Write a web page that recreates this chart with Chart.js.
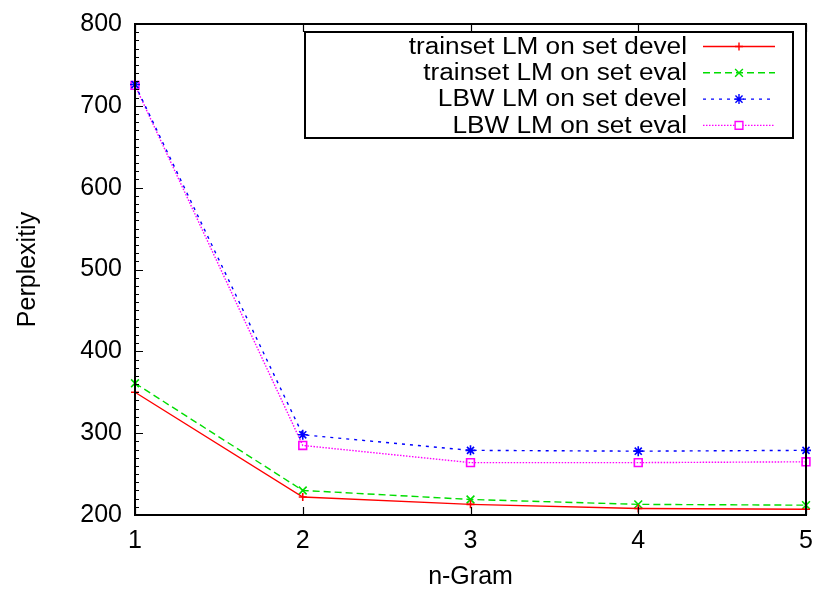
<!DOCTYPE html>
<html>
<head>
<meta charset="utf-8">
<script src="https://cdn.jsdelivr.net/npm/chart.js@4/dist/chart.umd.min.js"></script>
<style>
  html, body { margin: 0; padding: 0; background: #fff; }
  #wrap { width: 815px; height: 592px; }
</style>
</head>
<body>
<div id="wrap"><canvas id="pplChart" width="815" height="592"></canvas></div>
<script>
// perplexity per n-gram order
const nGrams = ['1', '2', '3', '4', '5'];
const trainDevel = [350, 222, 213, 208, 207];
const trainEval = [361, 230, 219, 213, 212];
const lbwDevel = [726, 298, 279, 278, 279];
const lbwEval = [725, 285, 264, 264, 265];
const yTicks = [200, 300, 400, 500, 600, 700, 800];

const FONT = "'Liberation Sans', Arial, sans-serif";

// gnuplot-style frame with inward ticks
const frameTicks = {
    id: 'frameTicks',
    afterDatasetsDraw(chart) {
        const { ctx, chartArea: a, scales: { x, y } } = chart;
        ctx.save();
        ctx.strokeStyle = '#000';
        ctx.lineWidth = 1.2;
        ctx.beginPath();
        // minor ticks every 10 on the left
        for (let v = yTicks[0]; v <= yTicks[yTicks.length - 1]; v += 10) {
            const py = Math.round(y.getPixelForValue(v)) + 0.5;
            const len = v % 100 === 0 ? 8 : 4;
            ctx.moveTo(a.left, py);
            ctx.lineTo(a.left + len, py);
        }
        // x ticks on bottom and top
        nGrams.forEach((n, i) => {
            const px = Math.round(x.getPixelForValue(i)) + 0.5;
            ctx.moveTo(px, a.bottom);
            ctx.lineTo(px, a.bottom - 8);
            ctx.moveTo(px, a.top);
            ctx.lineTo(px, a.top + 8);
        });
        ctx.stroke();
        ctx.lineWidth = 2;
        ctx.strokeRect(a.left, a.top, a.right - a.left, a.bottom - a.top);
        ctx.restore();
    }
};

// boxed legend, text right-aligned with line samples to the right
const boxLegend = {
    id: 'boxLegend',
    afterDraw(chart) {
        const { ctx } = chart;
        const box = { x: 305, y: 32, w: 488, h: 106 };
        const rowH = 26.3;
        ctx.save();
        ctx.fillStyle = '#fff';
        ctx.fillRect(box.x, box.y, box.w, box.h);
        ctx.strokeStyle = '#000';
        ctx.lineWidth = 2;
        ctx.strokeRect(box.x, box.y, box.w, box.h);
        chart.data.datasets.forEach((ds, i) => {
            const cy = box.y + 14.5 + i * rowH;
            ctx.save();
            ctx.translate(687, cy);
            ctx.scale(1.14, 1);
            ctx.fillStyle = '#000';
            ctx.font = '23px ' + FONT;
            ctx.textAlign = 'right';
            ctx.textBaseline = 'middle';
            ctx.fillText(ds.label, 0, 1);
            ctx.restore();

            ctx.strokeStyle = ds.borderColor;
            ctx.lineWidth = ds.borderWidth;
            ctx.setLineDash(ds.borderDash || []);
            ctx.beginPath();
            ctx.moveTo(703, cy);
            ctx.lineTo(775, cy);
            ctx.stroke();
            ctx.setLineDash([]);
            Chart.helpers.drawPoint(ctx, {
                pointStyle: ds.pointStyle,
                radius: ds.pointRadius,
                borderWidth: ds.pointBorderWidth || ds.borderWidth,
                rotation: 0
            }, 739, cy);
        });
        ctx.restore();
    }
};

function series(label, data, color, dash, style, radius) {
    return {
        label: label,
        data: data,
        borderColor: color,
        backgroundColor: 'transparent',
        pointBorderColor: color,
        pointBackgroundColor: 'transparent',
        borderWidth: 1.4,
        pointBorderWidth: 1.6,
        borderDash: dash,
        pointStyle: style,
        pointRadius: radius,
        tension: 0,
        fill: false
    };
}

new Chart(document.getElementById('pplChart'), {
    type: 'line',
    data: {
        labels: nGrams,
        datasets: [
            series('trainset LM on set devel', trainDevel, '#ff0000', [], 'cross', 4),
            series('trainset LM on set eval', trainEval, '#00dd00', [7, 4], 'crossRot', 5.5),
            series('LBW LM on set devel', lbwDevel, '#0000ff', [3, 5], 'star', 5),
            series('LBW LM on set eval', lbwEval, '#ff00ff', [1.5, 1.5], 'rect', 5.5)
        ]
    },
    options: {
        responsive: false,
        animation: false,
        layout: { padding: { top: 24, right: 9, left: 0, bottom: 0 } },
        plugins: {
            legend: { display: false },
            tooltip: { enabled: false }
        },
        scales: {
            x: {
                offset: false,
                grid: { display: false, drawTicks: false },
                border: { display: false },
                ticks: { color: '#000', font: { family: FONT, size: 25 }, padding: 11, maxRotation: 0 },
                title: {
                    display: true,
                    text: 'n-Gram',
                    color: '#000',
                    font: { family: FONT, size: 25 },
                    padding: { top: 0, bottom: 0 }
                },
                afterFit: s => {
                    s.height = 77;
                    s.paddingLeft = 0;
                    s.paddingRight = 0;
                }
            },
            y: {
                min: 200,
                max: 800,
                afterBuildTicks: s => { s.ticks = yTicks.map(v => ({ value: v })); },
                grid: { display: false, drawTicks: false },
                border: { display: false },
                ticks: { color: '#000', font: { family: FONT, size: 25 }, padding: 13 },
                title: {
                    display: true,
                    text: 'Perplexitiy',
                    color: '#000',
                    font: { family: FONT, size: 25 },
                    padding: { top: 13, bottom: 0 }
                },
                afterFit: s => {
                    s.width = 135;
                    s.paddingTop = 0;
                    s.paddingBottom = 0;
                }
            }
        }
    },
    plugins: [frameTicks, boxLegend]
});
</script>
</body>
</html>
